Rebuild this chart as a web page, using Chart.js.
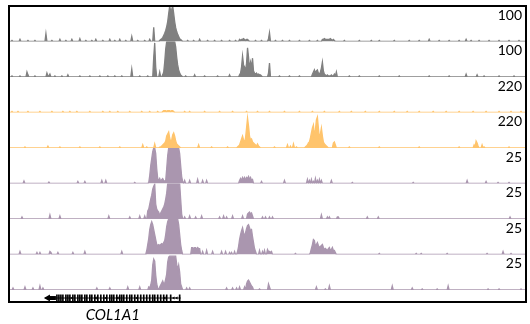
<!DOCTYPE html>
<html>
<head>
<meta charset="utf-8">
<script src="https://cdn.jsdelivr.net/npm/chart.js@4/dist/chart.umd.min.js"></script>
<style>
  html, body { margin: 0; padding: 0; background: #fff; }
  #wrap { width: 530px; height: 324px; }
</style>
</head>
<body>
<div id="wrap"><canvas id="myChart" width="530" height="324"></canvas></div>
<script>
// bins along the locus, one per column of the browser view
const FIRST_BIN = 9
const LAST_BIN = 527

// scale maximum of each track (printed top right) and its colour
const trackLabels = ['100', '100', '220', '220', '25', '25', '25', '25']
const trackMax = [100, 100, 220, 220, 25, 25, 25, 25]
const trackColors = ['#808080', '#808080', '#ffc46c', '#ffc46c', '#aa96af', '#aa96af', '#aa96af', '#aa96af']

// signal of each track as runs: [first bin, value, value, ...]; bins not listed are 0
const track1 = [
  [12, 3], [20, 6], [28, 3], [35, 3], [46, 22], [52, 3], [60, 6], [66, 3], [72, 6], [80, 8], [86, 3], [92, 3], [96, 6],
  [103, 3], [110, 6], [115, 3], [120, 6], [126, 3], [132, 14], [138, 3], [145, 3], [150, 6], [154, 40],
  [160, 3, 6, 8, 11, 17, 23, 31, 42, 56, 79, 100, 85, 90, 100, 79, 56, 39, 28, 20, 14, 8, 6, 3],
  [188, 3], [194, 3], [200, 6], [208, 3], [215, 3], [222, 3], [230, 3], [236, 3],
  [240, 6, 3, 6, 6, 8, 6, 3, 6, 6, 3], [256, 3], [262, 3], [269, 8, 25], [276, 3], [283, 3], [290, 3], [300, 3], [310, 3], [318, 3],
  [323, 6, 6, 8, 6, 6, 6, 6, 6, 8, 6, 3, 6, 3],
  [345, 3], [360, 3], [372, 3], [380, 3], [395, 3], [410, 3], [420, 3], [430, 6], [440, 3], [450, 3], [460, 3],
  [467, 6], [472, 3], [480, 3], [490, 3], [500, 3], [510, 3], [520, 3]
]
const track2 = [
  [12, 3], [20, 3], [27, 14, 6], [35, 3], [47, 11, 3, 3, 8], [55, 3], [62, 3], [68, 6], [80, 3], [90, 3], [100, 3],
  [108, 3], [115, 3], [122, 3], [132, 22], [140, 3], [148, 3], [154, 56, 96, 28], [160, 14],
  [163, 6, 14, 42, 79, 100, 100, 100, 100, 100, 100, 100, 100, 100, 85, 56, 34, 20, 11, 6, 3],
  [186, 3], [195, 6], [205, 3], [218, 3], [230, 6],
  [240, 6, 11, 28, 59, 34, 28, 17, 39, 82, 56, 22, 42, 28, 53, 17, 11, 8, 11, 6, 8, 6, 6, 3],
  [269, 11, 39], [280, 3], [290, 3], [300, 3],
  [313, 8, 14, 20, 11, 17, 20, 11, 8, 14, 25, 42, 17, 8, 6, 3, 6, 3, 3, 3, 6, 3, 3, 8, 3, 14],
  [350, 3], [360, 3], [380, 3], [400, 3], [430, 3], [450, 3], [467, 8], [478, 6], [485, 3], [500, 3], [515, 3]
]
const track3 = [
  [12, 6], [18, 6], [28, 6], [40, 6], [52, 6], [63, 6], [70, 6], [77, 6], [90, 6], [103, 6], [110, 6], [118, 6],
  [130, 6], [142, 6], [150, 6], [158, 6], [163, 6, 12, 12, 12, 6, 12, 12, 12, 6, 12, 12, 6],
  [185, 6], [190, 6], [205, 6], [220, 6], [233, 6], [247, 6], [258, 6], [270, 6], [285, 6], [300, 6], [313, 6],
  [325, 6], [340, 6], [352, 6], [366, 6], [380, 6], [395, 6], [408, 6], [420, 6], [434, 6], [447, 6], [460, 6],
  [474, 6], [487, 6], [500, 6], [512, 6], [522, 6]
]
const track4 = [
  [25, 6], [48, 12], [60, 6], [80, 6], [100, 6], [120, 6], [143, 19], [147, 6], [155, 25],
  [160, 6, 6, 12, 19, 25, 31, 43, 74, 87, 99, 62, 37, 50, 81, 93, 74, 43, 25, 19, 12, 6],
  [199, 19], [212, 6], [228, 6],
  [238, 6, 12, 19, 37, 56, 74, 50, 37, 62, 124, 186, 136, 74, 50, 56, 37, 31, 25, 19, 12, 25, 12, 6],
  [275, 6], [288, 19], [291, 12], [294, 25], [297, 6],
  [306, 6, 12, 19, 31, 37, 62, 93, 124, 143, 74, 112, 174, 192, 124, 62, 87, 124, 74, 37, 25, 19, 12, 6],
  [334, 31, 37, 19], [350, 6], [380, 6], [420, 6], [460, 6], [475, 19, 6, 43, 31, 12], [483, 19], [485, 6], [510, 6]
]
const track5 = [
  [24, 1.8], [49, 1], [78, 1.4], [85, 1.4], [102, 2.1], [106, 2.1], [135, 0.7],
  [149, 0.7, 5.6, 12.6, 17.5, 22.4, 25, 25, 21, 10.5, 3.5],
  [159, 2.1, 3.5, 1.4, 2.8, 3.5, 2.1, 1.4],
  [166, 2.1, 10.5, 19.6, 25, 25, 25, 25, 25, 25, 25, 25, 25, 25, 25, 21, 12.6, 4.9, 1.4],
  [185, 2.1], [190, 2.1], [198, 2.8], [203, 2.1], [207, 2.1],
  [240, 2.1, 3.5, 2.1, 4.2, 2.8, 4.2, 2.1, 4.2, 3.5, 4.9, 2.8, 4.2, 2.1, 2.8],
  [262, 1.4], [285, 2.1],
  [308, 2.8, 0, 2.1, 0, 2.8, 0, 1.4, 0, 3.5, 0, 2.1, 0, 2.8, 0, 2.1],
  [332, 2.1], [353, 0.7], [414, 0.7], [468, 2.1], [487, 1.4], [499, 0.7], [510, 0.7]
]
const track6 = [
  [22, 1.4], [50, 2.8], [60, 2.1], [109, 2.1], [130, 1.4], [140, 2.1], [145, 2.1],
  [148, 5.6, 7, 10.5, 14, 16.8, 21, 23, 24.5, 10.5, 7, 5.6],
  [159, 4.9, 2.1, 4.2, 5.6, 7, 8.4, 10.5, 14, 18.2],
  [168, 25, 25, 25, 25, 25, 25, 25, 25, 25, 25, 25, 25, 25, 14, 3.5],
  [185, 1.4], [190, 2.1], [196, 1.4], [202, 2.1],
  [220, 1.4, 0, 0, 0, 2.1, 0, 0, 1.4], [233, 2.1], [243, 2.1], [248, 3.5, 4.2, 4.9, 3.5, 4.2, 2.1],
  [263, 1.4], [266, 1.4], [270, 1.4], [273, 1.4],
  [322, 2.8], [328, 1.4], [330, 1.4], [338, 1.4, 1.4], [368, 1.4], [379, 1.4], [511, 1.4]
]
const track7 = [
  [20, 2.1], [37, 1.4], [40, 1.4], [50, 2.1, 1.4], [58, 1.4], [73, 1.4], [85, 2.1], [122, 2.1],
  [147, 2.8, 7, 11.2, 17.5, 21, 23.1, 21, 17.5, 14, 10.5, 7, 6.3],
  [159, 7, 6.3, 7, 7.7, 7, 8.4, 9.8, 14],
  [167, 19.6, 23.1, 25, 25, 25, 25, 25, 25, 25, 25, 25, 25, 21, 14, 7, 2.8],
  [192, 4.9, 4.9, 4.2, 4.9, 4.9, 3.5, 4.9, 4.2, 4.2], [203, 2.1], [207, 2.8],
  [213, 2.1], [222, 2.1], [226, 2.1], [230, 1.4], [232, 1.4], [235, 2.1],
  [238, 2.1, 5.6, 10.5, 14, 16.8, 18.9, 15.4, 12.6, 15.4, 18.2, 20.3, 21, 18.9, 16.8, 17.5, 12.6, 8.4, 4.2, 2.1],
  [260, 2.8], [263, 2.1], [265, 2.8], [268, 3.5, 2.1, 2.1, 1.4, 2.1], [296, 0.7],
  [311, 1.4, 4.2, 7, 10.5, 9.8, 5.6, 7, 8.4, 6.3, 4.9, 5.6, 6.3, 7, 4.9, 3.5, 4.2, 3.5, 2.8, 4.2, 4.9, 2.8, 3.5, 4.9, 2.8, 2.8, 1.4],
  [380, 0.7], [417, 0.7], [422, 0.7], [448, 0.7], [488, 0.7], [504, 2.1], [512, 0.7]
]
const track8 = [
  [13, 1.4], [25, 2.1], [33, 1.4], [40, 2.8], [43, 1.4], [97, 1.4], [110, 1.4], [128, 2.1], [140, 2.1],
  [149, 2.1, 1.4, 3.5, 7, 17.5, 21.7, 20.3, 10.5, 4.2, 1.4],
  [160, 2.1, 3.5, 4.9, 6.3, 4.2, 4.9, 7.7, 11.2],
  [168, 19.6, 23.1, 23.8, 23.8, 23.8, 23.8, 23.8, 23.8, 23.8, 18.2, 14, 17.5, 12.6, 4.2, 2.1],
  [187, 1.4], [190, 1.4], [227, 1.4], [233, 1.4], [237, 1.4], [240, 2.1], [245, 2.1],
  [247, 4.2, 6.3, 7, 5.6, 4.2, 2.8, 2.1], [260, 0.7], [269, 4.2, 2.1],
  [317, 2.1], [326, 0.7], [330, 2.8], [393, 2.8], [413, 1.4], [423, 0.7], [438, 0.7], [449, 2.8],
  [489, 0.7], [500, 0.7], [522, 0.7]
]
const tracks = [track1, track2, track3, track4, track5, track6, track7, track8]

// gene model (bins)
const geneName = 'COL1A1'
const geneStart = 45
const geneEnd = 181
const geneThickEnd = 56
const geneExons = [57, 59, 61, 63, 66, 68, 70, 73, 75, 78, 80, 82, 85, 87, 90, 92, 95, 98, 101, 104, 107, 110, 112,
  114, 117, 120, 122, 124, 127, 130, 132, 135, 138, 141, 144, 147, 150, 153, 155, 158, 161, 164, 167, 171, 180]
const geneArrows = [72, 96, 106, 118, 137, 165, 174, 177]

const labels = []
for (let b = FIRST_BIN; b <= LAST_BIN; b++) labels.push(b)

function toBins(runs, max) {
  const out = labels.map(() => 0)
  runs.forEach(run => {
    run.slice(1).forEach((v, k) => { out[run[0] + k - FIRST_BIN] = Math.min(v, max) })
  })
  return out
}

const trackIds = tracks.map((t, i) => 'y' + i)
const GENE_Y = 0.27

const datasets = tracks.map((t, i) => ({
  type: 'line',
  data: toBins(t, trackMax[i]),
  yAxisID: trackIds[i],
  borderColor: trackColors[i],
  backgroundColor: trackColors[i],
  borderWidth: 1.3,
  fill: 'origin',
  pointRadius: 0,
  tension: 0
}))

// gene: intron line, thick 3' end, arrow tip, exons, strand chevrons
datasets.push({
  type: 'line', yAxisID: 'yGene', borderColor: '#000', borderWidth: 1, pointRadius: 0, fill: false,
  data: labels.map(b => (b >= geneStart && b <= geneEnd ? GENE_Y : null))
})
datasets.push({
  type: 'line', yAxisID: 'yGene', borderColor: '#000', borderWidth: 4, pointRadius: 0, fill: false,
  data: labels.map(b => (b >= geneStart + 3 && b <= geneThickEnd ? GENE_Y : null))
})
datasets.push({
  type: 'line', yAxisID: 'yGene', showLine: false, pointStyle: 'triangle', rotation: -90, pointRadius: 4,
  pointBackgroundColor: '#000', pointBorderColor: '#000', pointBorderWidth: 0,
  data: labels.map(b => (b === geneStart + 3 ? GENE_Y : null))
})
datasets.push({
  type: 'line', yAxisID: 'yGene', showLine: false, pointStyle: 'triangle', rotation: -90, pointRadius: 1.8,
  pointBackgroundColor: '#000', pointBorderColor: '#000', pointBorderWidth: 0,
  data: labels.map(b => (geneArrows.includes(b) ? GENE_Y : null))
})
datasets.push({
  type: 'bar', yAxisID: 'yGene', backgroundColor: '#000', barPercentage: 1, categoryPercentage: 1,
  data: labels.map(b => (geneExons.includes(b) ? [0.02, 0.56] : null))
})

const scales = { x: { type: 'category', display: false, offset: false } }
trackIds.forEach((id, i) => {
  scales[id] = { type: 'linear', position: 'right', stack: 'tracks', stackWeight: 1, min: 0, max: trackMax[i], display: false }
})
scales.yGene = { type: 'linear', position: 'right', stack: 'tracks', stackWeight: 0.31, min: 0, max: 1, display: false }

// frame, scale labels and gene name
const decorations = {
  id: 'decorations',
  afterDatasetsDraw(chart) {
    const ctx = chart.ctx
    const area = chart.chartArea
    ctx.save()
    ctx.fillStyle = '#000'
    ctx.font = '14px Lato'
    ctx.textAlign = 'right'
    trackIds.forEach((id, i) => {
      ctx.fillText(trackLabels[i], area.right - 4, chart.scales[id].top + 14)
    })
    ctx.font = 'italic 15px Lato'
    ctx.textAlign = 'center'
    const gx = chart.scales.x.getPixelForValue((geneStart + geneEnd) / 2 - FIRST_BIN)
    ctx.fillText(geneName, gx, area.bottom + 19)
    ctx.lineWidth = 2
    ctx.strokeStyle = '#000'
    ctx.strokeRect(area.left, area.top, area.right - area.left, area.bottom - area.top + 1)
    ctx.restore()
  }
}

const ctx = document.getElementById('myChart').getContext('2d')
const chart = new Chart(ctx, {
  type: 'line',
  data: { labels: labels, datasets: datasets },
  options: {
    responsive: false,
    animation: false,
    devicePixelRatio: 1,
    events: [],
    layout: { padding: { left: 9, right: 3, top: 6, bottom: 23 } },
    plugins: { legend: { display: false }, tooltip: { enabled: false } },
    scales: scales
  },
  plugins: [decorations]
})
</script>
</body>
</html>
